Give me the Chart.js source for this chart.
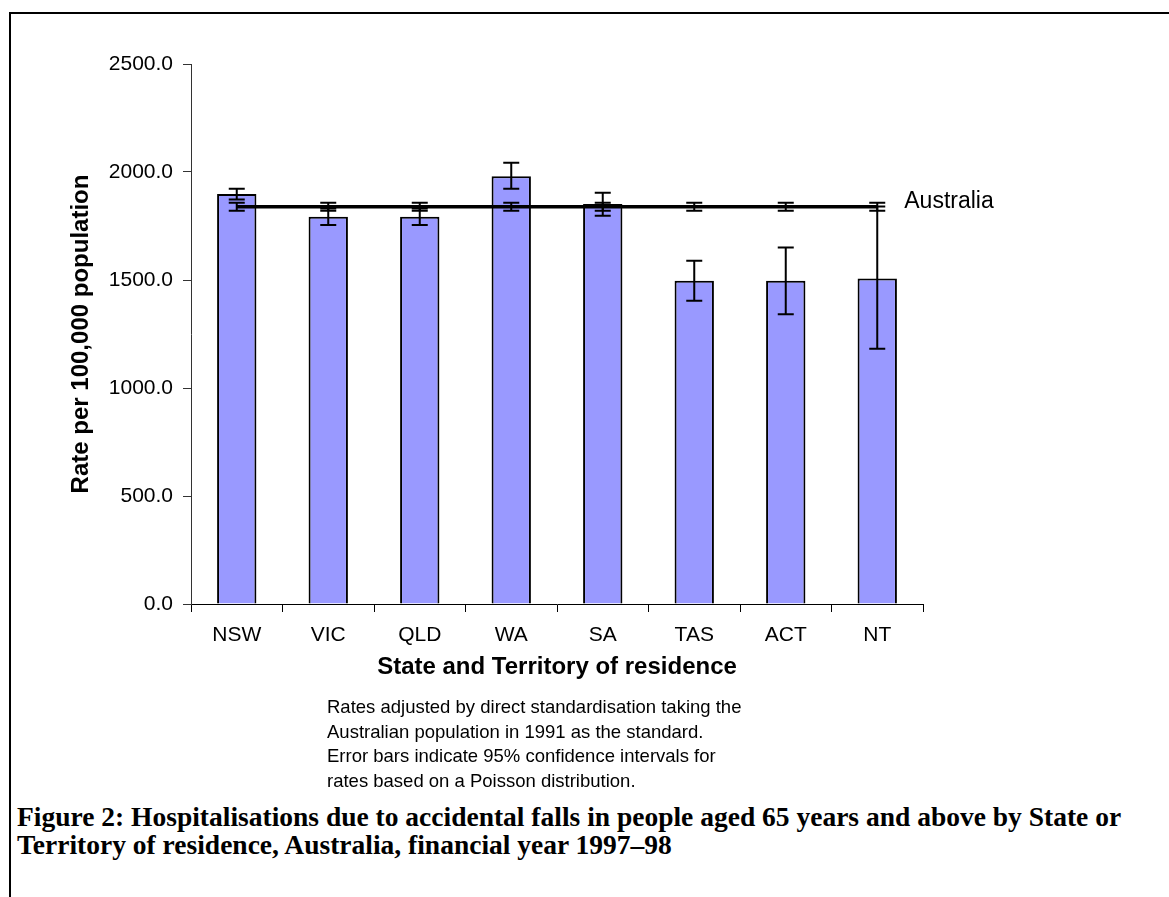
<!DOCTYPE html>
<html>
<head>
<meta charset="utf-8">
<script src="https://cdn.jsdelivr.net/npm/chart.js@4.4.1/dist/chart.umd.min.js"></script>
<style>
  html, body { margin: 0; padding: 0; background: #fff; }
  body { width: 1169px; height: 897px; position: relative; overflow: hidden; }
  #frame { position: absolute; left: 9px; top: 12px; width: 1200px; height: 900px;
    border-left: 2px solid #000; border-top: 2px solid #000; }
  #chart16 { position: absolute; left: 0; top: 0; }
  #note { position: absolute; left: 327px; top: 695px; font-family: "Liberation Sans", Arial, sans-serif;
    font-size: 18.5px; line-height: 24.5px; color: #000; }
  #caption { position: absolute; left: 17px; top: 803px; font-family: "Liberation Serif", "Times New Roman", serif;
    font-weight: bold; font-size: 27.5px; line-height: 28px; color: #000; white-space: nowrap; }
</style>
</head>
<body>
<div id="frame"></div>
<canvas id="chart16" width="1169" height="700"></canvas>
<div id="note">Rates adjusted by direct standardisation taking the<br>Australian population in 1991 as the standard.<br>Error bars indicate 95% confidence intervals for<br>rates based on a Poisson distribution.</div>
<div id="caption">Figure 2: Hospitalisations due to accidental falls in people aged 65 years and above by State or<br>Territory of residence, Australia, financial year 1997–98</div>
<script>
  "use strict";

  var states = ['NSW', 'VIC', 'QLD', 'WA', 'SA', 'TAS', 'ACT', 'NT'];
  var rates = [1898, 1793, 1793, 1980, 1852, 1497, 1497, 1507];
  var ratesLow = [1873, 1755, 1755, 1922, 1798, 1404, 1341, 1182];
  var ratesHigh = [1923, 1831, 1831, 2043, 1904, 1589, 1651, 1840];
  var ausRate = [1839, 1839, 1839, 1839, 1839, 1839, 1839, 1839];
  var ausLow = [1821, 1821, 1821, 1821, 1821, 1821, 1821, 1821];
  var ausHigh = [1858, 1858, 1858, 1858, 1858, 1858, 1858, 1858];
  var yTicks = [0, 500, 1000, 1500, 2000, 2500];

  var FONT = '"Liberation Sans", Arial, sans-serif';

  // error bars + the "Australia" label
  var errorBars = {
    id: 'errorBars',
    afterDatasetsDraw: function (chart) {
      var ctx = chart.ctx;
      var x = chart.scales.x, y = chart.scales.y;
      var sets = [[ratesLow, ratesHigh], [ausLow, ausHigh]];
      ctx.save();
      ctx.strokeStyle = '#000';
      ctx.lineWidth = 2;
      sets.forEach(function (s) {
        for (var i = 0; i < states.length; i++) {
          var px = x.getPixelForValue(i);
          var lo = y.getPixelForValue(s[0][i]);
          var hi = y.getPixelForValue(s[1][i]);
          ctx.beginPath();
          ctx.moveTo(px, lo); ctx.lineTo(px, hi);
          ctx.moveTo(px - 8, lo); ctx.lineTo(px + 8, lo);
          ctx.moveTo(px - 8, hi); ctx.lineTo(px + 8, hi);
          ctx.stroke();
        }
      });
      var last = states.length - 1;
      ctx.fillStyle = '#000';
      ctx.font = '23px ' + FONT;
      ctx.textBaseline = 'middle';
      ctx.textAlign = 'left';
      ctx.fillText('Australia', x.getPixelForValue(last) + 27, y.getPixelForValue(ausRate[last]) - 5);
      ctx.restore();
    }
  };

  var ctx = document.getElementById('chart16').getContext('2d');

  var myChart = new Chart(ctx, {
    type: 'bar',
    data: {
      labels: states,
      datasets: [{
        type: 'line',
        label: 'Australia',
        data: ausRate,
        borderColor: '#000',
        borderWidth: 3.5,
        pointRadius: 0,
        fill: false,
        order: 0
      }, {
        label: 'Rate',
        data: rates,
        backgroundColor: '#9999ff',
        borderColor: '#000',
        borderWidth: 2,
        barPercentage: 0.43,
        categoryPercentage: 1,
        order: 1
      }]
    },
    options: {
      responsive: false,
      animation: false,
      layout: { padding: { left: 0, top: 64, right: 246, bottom: 0 } },
      plugins: {
        legend: { display: false },
        tooltip: { enabled: false }
      },
      scales: {
        x: {
          afterFit: function (axis) { axis.height = 96; },
          grid: { display: true, offset: true, drawOnChartArea: false, drawTicks: true, tickLength: 8, color: '#000' },
          border: { display: true, color: '#000', width: 1 },
          ticks: { color: '#000', padding: 11, font: { family: FONT, size: 21 } },
          title: {
            display: true,
            text: 'State and Territory of residence',
            color: '#000',
            font: { family: FONT, size: 24, weight: 'bold' },
            padding: { top: 0, bottom: 18 }
          }
        },
        y: {
          min: 0,
          max: 2500,
          afterFit: function (axis) { axis.width = 191; },
          afterBuildTicks: function (axis) {
            axis.ticks = yTicks.map(function (v) { return { value: v }; });
          },
          grid: { display: true, drawOnChartArea: false, drawTicks: true, tickLength: 8, color: '#333' },
          border: { display: true, color: '#333', width: 1 },
          ticks: {
            color: '#000',
            padding: 10,
            font: { family: FONT, size: 21 },
            callback: function (v) { return v.toFixed(1); }
          },
          title: {
            display: true,
            text: 'Rate per 100,000 population',
            color: '#000',
            font: { family: FONT, size: 24, weight: 'bold' },
            padding: { top: 67, bottom: 0 }
          }
        }
      }
    },
    plugins: [errorBars]
  });
</script>
</body>
</html>
